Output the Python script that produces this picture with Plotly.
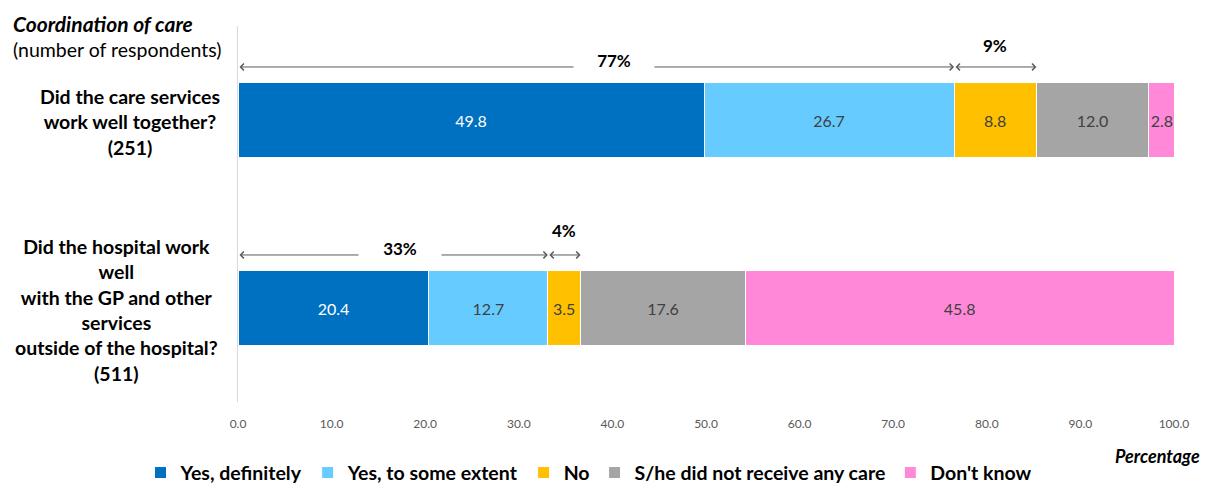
import plotly.graph_objects as go

# Survey questions (number of respondents in brackets)
questions = [
    "Did the care services<br>work well together?<br>(251)",
    "Did the hospital work<br>well<br>with the GP and other<br>services<br>outside of the hospital?<br>(511)",
]
responses = ["Yes, definitely", "Yes, to some extent", "No",
             "S/he did not receive any care", "Don't know"]

yes_definitely = [49.8, 20.4]
yes_some_extent = [26.7, 12.7]
no = [8.8, 3.5]
no_care = [12.0, 17.6]
dont_know = [2.8, 45.8]

tick_values = [0, 10, 20, 30, 40, 50, 60, 70, 80, 90, 100]

series = [yes_definitely, yes_some_extent, no, no_care, dont_know]
colors = ["#0070C0", "#66CCFF", "#FFC000", "#A5A5A5", "#FF89D8"]
text_colors = ["#FFFFFF", "#404040", "#404040", "#404040", "#404040"]

FONT = "Lato, 'Open Sans', sans-serif"


def pct(v):
    # round half up, as the survey report does
    return f"{int(v + 0.5)}%"


fig = go.Figure()
for name, vals, col, tcol in zip(responses, series, colors, text_colors):
    fig.add_trace(go.Bar(
        y=questions, x=vals, name=name, orientation="h",
        marker=dict(color=col, line=dict(color="#FFFFFF", width=1)),
        text=[f"{v:.1f}" for v in vals], textposition="inside",
        insidetextanchor="middle", constraintext="none", textangle=0,
        textfont=dict(family=FONT, size=16, color=tcol),
        hoverinfo="skip",
    ))

annotations = []

# Question labels, centred to the left of the bars
label_x = [-0.1154, -0.1303]
for i, (q, lx) in enumerate(zip(questions, label_x)):
    annotations.append(dict(
        text=f"<b>{q}</b>", xref="paper", yref="y", x=lx, y=i + 0.012,
        xanchor="center", yanchor="middle", align="center", showarrow=False,
        font=dict(family=FONT, size=19.5, color="#000000"),
    ))

# Bracket arrows for "yes" totals and "no" share
arrow_style = dict(showarrow=True, arrowhead=4, arrowside="end+start",
                   arrowsize=1.3, arrowwidth=1, arrowcolor="#595959",
                   standoff=0, startstandoff=0, text="",
                   xref="x", yref="y", axref="x", ayref="y")
# (line y, yes-text x, yes-text y, no-text y, gap width) per question
arrow_rows = [(-0.282, 40.2, -0.314, -0.394, 78),
              (0.718, 17.3, 0.686, 0.590, 80)]
for i, (ly, tx, ty, ny, gap) in enumerate(arrow_rows):
    yes_total = yes_definitely[i] + yes_some_extent[i]
    no_end = yes_total + no[i]
    annotations.append(dict(arrow_style, x=yes_total, y=ly, ax=0, ay=ly))
    annotations.append(dict(arrow_style, x=no_end, y=ly, ax=yes_total, ay=ly))
    annotations.append(dict(
        text=f"<b>{pct(yes_total)}</b>", xref="x", yref="y", x=tx, y=ty,
        showarrow=False, bgcolor="#FFFFFF", width=gap,
        font=dict(family=FONT, size=17, color="#000000"),
    ))
    annotations.append(dict(
        text=f"<b>{pct(no[i])}</b>", xref="x", yref="y",
        x=(yes_total + no_end) / 2, y=ny, showarrow=False,
        font=dict(family=FONT, size=17, color="#000000"),
    ))

# Chart heading and axis caption
annotations.append(dict(
    text=("<b><i><span style='font-size:21px'>Coordination of care</span></i></b>"
          "<br>(number of respondents)"),
    xref="paper", yref="paper", x=-0.242, y=1.046, xanchor="left",
    yanchor="top", align="left", showarrow=False,
    font=dict(family=FONT, size=19.5, color="#000000"),
))
annotations.append(dict(
    text="<b><i>Percentage</i></b>", xref="paper", yref="paper",
    x=1.0297, y=-0.144, xanchor="right", yanchor="middle", showarrow=False,
    font=dict(family=FONT, size=18, color="#000000"),
))

fig.update_layout(
    barmode="stack", bargap=0.6,
    width=1209, height=483,
    margin=dict(l=238, r=35, t=26, b=81),
    paper_bgcolor="#FFFFFF", plot_bgcolor="#FFFFFF",
    font=dict(family=FONT, color="#000000"),
    showlegend=True,
    legend=dict(orientation="h", x=0.375, xanchor="center",
                yref="container", y=0.021, yanchor="middle",
                traceorder="normal",
                font=dict(family=FONT, size=19.5, color="#000000",
                          weight="bold"),
                itemclick=False, itemdoubleclick=False),
    annotations=annotations,
)
fig.update_xaxes(range=[0, 100], tickvals=tick_values,
                 ticktext=[f"{t:.1f}" for t in tick_values],
                 showgrid=False, zeroline=False, showline=False, ticks="",
                 ticklabelstandoff=13,
                 tickfont=dict(family=FONT, size=12, color="#595959"))
fig.update_yaxes(autorange="reversed", showticklabels=False, showgrid=False,
                 zeroline=False, showline=True, linecolor="#D9D9D9",
                 linewidth=1, ticks="")

fig.write_html("out.html")
